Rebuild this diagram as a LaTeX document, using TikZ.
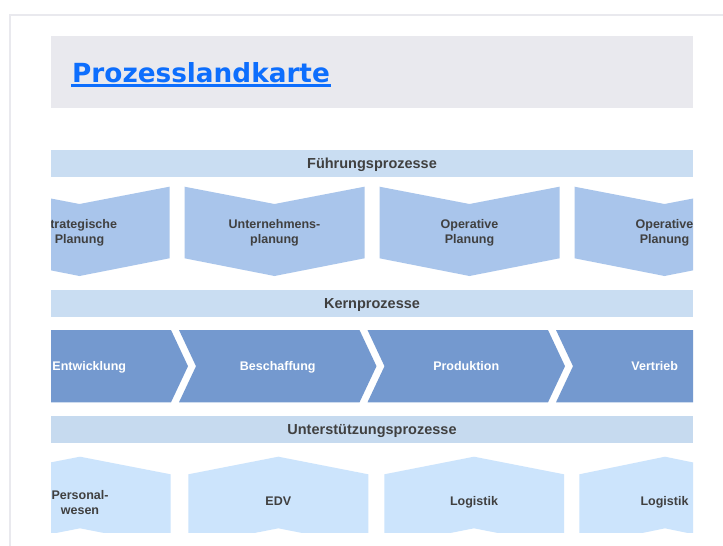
\documentclass[tikz,border=0pt]{standalone}
\usepackage{fontspec}
\setmainfont{Liberation Sans}
\newfontfamily\titlefont{DejaVu Sans}
\definecolor{framegray}{HTML}{E9E9EE}
\definecolor{titlebg}{HTML}{E9E9EE}
\definecolor{linkblue}{HTML}{0D6EFD}
\definecolor{barblue}{HTML}{C9DDF2}
\definecolor{barblue2}{HTML}{C6DAEF}
\definecolor{fuehrblue}{HTML}{A9C5EB}
\definecolor{kernblue}{HTML}{7499CF}
\definecolor{unterblue}{HTML}{CCE4FC}
\definecolor{txtgray}{HTML}{404040}
\tikzset{
  barlabel/.style={text=txtgray,font=\fontsize{14.5}{17}\selectfont\bfseries,inner sep=0pt,yshift=-1.3pt},
  shapelabel/.style={text=txtgray,font=\fontsize{12.5}{15.5}\selectfont\bfseries,align=center,inner sep=0pt,yshift=-1.3pt},
  oneline/.style={text height=9pt,text depth=2.7pt},
  kernlabel/.style={text=white,font=\fontsize{12.5}{15.5}\selectfont\bfseries,inner sep=0pt,yshift=-1.3pt,oneline},
}
\begin{document}
\begin{tikzpicture}[x=1pt,y=-1pt]
\useasboundingbox (0,0) rectangle (723,546);
\fill[white] (0,0) rectangle (723,546);
\draw[framegray,line width=2pt] (10,547) -- (10,15) -- (724,15);
\fill[titlebg] (51,36) rectangle (693,107.5);
\node[anchor=base west,inner sep=0pt,text=linkblue,font=\titlefont\fontsize{26.3}{30}\selectfont\bfseries] (title) at (72,82) {Prozesslandkarte};
\draw[linkblue,line width=2.8pt] ([xshift=-1pt,yshift=-3.6pt]title.base west) -- ([xshift=0.5pt,yshift=-3.6pt]title.base east);
\begin{scope}
\clip (51,140) rectangle (693,532.7);
% bars
\fill[barblue] (51,150) rectangle (693,177);
\node[barlabel] (fp) at (372,163.5) {Führungsprozesse};
\fill[barblue] (51,290) rectangle (693,316.7);
\node[barlabel] (kp) at (372,303.3) {Kernprozesse};
\fill[barblue2] (51,416) rectangle (693,442.7);
\node[barlabel] (up) at (372,429.3) {Unterstützungsprozesse};
% row 1
\foreach \L in {-10.5,184.5,379.5,574.5}{
  \fill[fuehrblue] (\L,186.7) -- (\L+90,204) -- (\L+180,186.7) -- (\L+180,258.3) -- (\L+90,276) -- (\L,258.3) -- cycle;
}
\node[shapelabel] (f1) at (79.5,231.3) {Strategische\\Planung};
\node[shapelabel] (f2) at (274.5,231.3) {Unternehmens-\\planung};
\node[shapelabel] (f3) at (469.5,231.3) {Operative\\Planung};
\node[shapelabel] (f4) at (664.5,231.3) {Operative\\Planung};
% row 2
\foreach \L in {-9.5,179,367.5,556}{
  \fill[kernblue] (\L,330) -- (\L+180.5,330) -- (\L+197.5,366.2) -- (\L+180.5,402.3) -- (\L,402.3) -- (\L+17,366.2) -- cycle;
}
\node[kernlabel] (k1) at (89.25,366.2) {Entwicklung};
\node[kernlabel] (k2) at (277.75,366.2) {Beschaffung};
\node[kernlabel] (k3) at (466.25,366.2) {Produktion};
\node[kernlabel] (k4) at (654.75,366.2) {Vertrieb};
% row 3
\foreach \L/\C/\R in {-10.5/80/170.7,188.3/278.3/368.3,384.3/474/564,579.3/665/750.7}{
  \fill[unterblue] (\L,474.3) -- (\C,456.7) -- (\R,474.3) -- (\R,546) -- (\C,528.3) -- (\L,546) -- cycle;
}
\node[shapelabel] (u1) at (80,501) {Personal-\\wesen};
\node[shapelabel,oneline] (u2) at (278.3,501) {EDV};
\node[shapelabel,oneline] (u3) at (474,501) {Logistik};
\node[shapelabel,oneline] (u4) at (664.5,501) {Logistik};
\end{scope}
\end{tikzpicture}
\end{document}
